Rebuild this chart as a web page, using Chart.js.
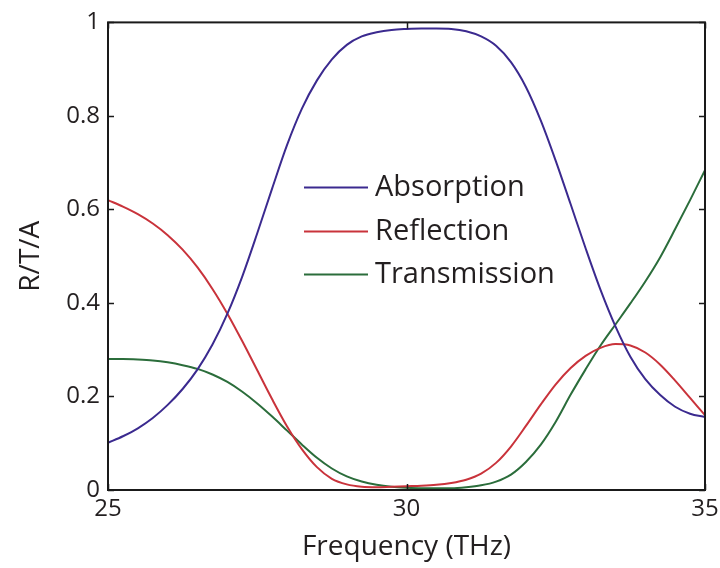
<!DOCTYPE html>
<html>
<head>
<meta charset="utf-8">
<title>R/T/A spectrum</title>
<script src="https://cdn.jsdelivr.net/npm/chart.js@4/dist/chart.umd.min.js"></script>
<style>
  html, body { margin: 0; padding: 0; background: #ffffff; }
  #wrap { width: 720px; height: 568px; }
</style>
</head>
<body>
<div id="wrap"><canvas id="c" width="720" height="568"></canvas></div>
<script>
// Frequency samples (THz)
const frequency = [
  25, 25.25, 25.5, 25.75, 26, 26.25, 26.5, 26.75, 27, 27.25,
  27.5, 27.75, 28, 28.25, 28.5, 28.75, 29, 29.25, 29.5, 29.75,
  30, 30.25, 30.5, 30.75, 31, 31.25, 31.5, 31.75, 32, 32.25,
  32.5, 32.75, 33, 33.25, 33.5, 33.75, 34, 34.25, 34.5, 34.75, 35
];

const absorption = [
  0.101, 0.115, 0.132, 0.154, 0.182, 0.216, 0.258, 0.311, 0.377, 0.457,
  0.549, 0.645, 0.738, 0.816, 0.876, 0.921, 0.952, 0.970, 0.979, 0.984,
  0.986, 0.987, 0.987, 0.986, 0.981, 0.970, 0.950, 0.915, 0.862, 0.790,
  0.704, 0.611, 0.517, 0.428, 0.350, 0.285, 0.237, 0.203, 0.178, 0.163, 0.156
];

const reflection = [
  0.620, 0.606, 0.590, 0.570, 0.545, 0.514, 0.476, 0.430, 0.377, 0.318,
  0.256, 0.194, 0.136, 0.087, 0.049, 0.024, 0.012, 0.007, 0.006, 0.007,
  0.008, 0.009, 0.011, 0.015, 0.022, 0.035, 0.058, 0.093, 0.137, 0.183,
  0.226, 0.261, 0.287, 0.304, 0.312, 0.309, 0.294, 0.268, 0.234, 0.197, 0.160
];

const transmission = [
  0.280, 0.280, 0.279, 0.277, 0.273, 0.267, 0.259, 0.247, 0.231, 0.210,
  0.185, 0.157, 0.127, 0.097, 0.069, 0.046, 0.029, 0.018, 0.011, 0.007,
  0.005, 0.004, 0.004, 0.004, 0.006, 0.010, 0.018, 0.033, 0.060, 0.097,
  0.146, 0.204, 0.258, 0.309, 0.354, 0.399, 0.446, 0.498, 0.558, 0.620, 0.684
];

const seriesNames = ['Absorption', 'Reflection', 'Transmission'];
const xTicks = [25, 30, 35];
const yTicks = [0, 0.2, 0.4, 0.6, 0.8, 1];

const FONT = '"Open Sans", "DejaVu Sans", sans-serif';
const INK = '#231f20';
const COLORS = ['#3b2a8f', '#c9333b', '#2b6d3b'];

function toPoints(ys) {
  return frequency.map((f, i) => ({ x: f, y: ys[i] }));
}

// Closed frame with inward-pointing tick marks on all four sides
const framePlugin = {
  id: 'frame',
  afterDatasetsDraw(chart) {
    const { ctx, chartArea: a, scales } = chart;
    const len = 6;
    ctx.save();
    ctx.strokeStyle = '#1a1a1a';
    ctx.lineWidth = 2;
    ctx.strokeRect(a.left, a.top, a.right - a.left, a.bottom - a.top);
    ctx.lineWidth = 1.5;
    ctx.beginPath();
    xTicks.forEach(v => {
      const px = Math.round(scales.x.getPixelForValue(v)) + 0.5;
      ctx.moveTo(px, a.bottom); ctx.lineTo(px, a.bottom - len);
      ctx.moveTo(px, a.top); ctx.lineTo(px, a.top + len);
    });
    yTicks.forEach(v => {
      const py = Math.round(scales.y.getPixelForValue(v)) + 0.5;
      ctx.moveTo(a.left, py); ctx.lineTo(a.left + len, py);
      ctx.moveTo(a.right, py); ctx.lineTo(a.right - len, py);
    });
    ctx.stroke();
    ctx.restore();
  }
};

// Borderless legend placed inside the plot area
const insideLegend = {
  id: 'insideLegend',
  afterDraw(chart) {
    const { ctx, chartArea: a } = chart;
    const x0 = a.left + 196, x1 = a.left + 260, tx = a.left + 267;
    const rows = [a.top + 165, a.top + 209, a.top + 252];
    ctx.save();
    ctx.font = '29px ' + FONT;
    ctx.textBaseline = 'middle';
    ctx.textAlign = 'left';
    chart.data.datasets.forEach((ds, i) => {
      ctx.strokeStyle = ds.borderColor;
      ctx.lineWidth = 2;
      ctx.beginPath();
      ctx.moveTo(x0, rows[i]);
      ctx.lineTo(x1, rows[i]);
      ctx.stroke();
      ctx.fillStyle = INK;
      ctx.fillText(ds.label, tx, rows[i]);
    });
    ctx.restore();
  }
};

const datasets = [absorption, reflection, transmission].map((ys, i) => ({
  label: seriesNames[i],
  data: toPoints(ys),
  borderColor: COLORS[i],
  backgroundColor: COLORS[i],
  borderWidth: 2,
  pointRadius: 0,
  fill: false,
  cubicInterpolationMode: 'monotone'
}));

new Chart(document.getElementById('c'), {
  type: 'line',
  data: { datasets },
  options: {
    responsive: false,
    animation: false,
    layout: { padding: { top: 20, right: 15, bottom: 0, left: 0 } },
    plugins: {
      legend: { display: false },
      tooltip: { enabled: false }
    },
    scales: {
      x: {
        type: 'linear',
        min: 25,
        max: 35,
        afterFit(scale) {
          scale.height = 78;
          scale.paddingLeft = 0;
          scale.paddingRight = 0;
        },
        afterBuildTicks(scale) { scale.ticks = xTicks.map(v => ({ value: v })); },
        grid: { display: false, drawTicks: false },
        border: { display: false },
        ticks: {
          padding: 5,
          color: INK,
          font: { family: FONT, size: 24 },
          maxRotation: 0,
          callback: v => String(v)
        },
        title: {
          display: true,
          text: 'Frequency (THz)',
          color: INK,
          font: { family: FONT, size: 28 },
          padding: { top: 0, bottom: 4 }
        }
      },
      y: {
        type: 'linear',
        min: 0,
        max: 1,
        afterFit(scale) { scale.width = 108; },
        afterBuildTicks(scale) { scale.ticks = yTicks.map(v => ({ value: v })); },
        grid: { display: false, drawTicks: false },
        border: { display: false },
        ticks: {
          padding: 8,
          color: INK,
          font: { family: FONT, size: 24 },
          callback: v => (v === 0 || v === 1) ? String(v) : v.toFixed(1)
        },
        title: {
          display: true,
          text: 'R/T/A',
          color: INK,
          font: { family: FONT, size: 28 },
          padding: { top: 14, bottom: 0 }
        }
      }
    }
  },
  plugins: [framePlugin, insideLegend]
});
</script>
</body>
</html>
